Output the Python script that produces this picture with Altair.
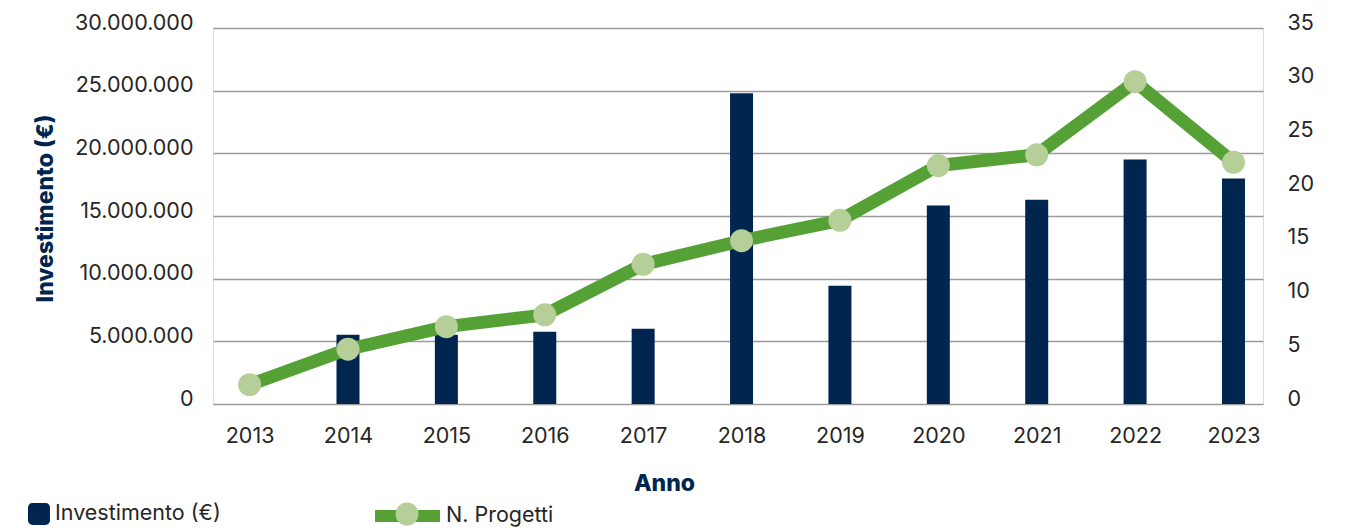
import altair as alt
import pandas as pd

# ---- data ----
years = [2013, 2014, 2015, 2016, 2017, 2018, 2019, 2020, 2021, 2022, 2023]
investimento = [0, 5530000, 5530000, 5770000, 6000000, 24800000, 9440000,
                15830000, 16300000, 19500000, 18000000]
progetti = [1.8, 5.1, 7.2, 8.3, 13.0, 15.2, 17.1, 22.2, 23.2, 30.0, 22.5]
left_ticks = [0, 5000000, 10000000, 15000000, 20000000, 25000000, 30000000]
right_ticks = [0, 5, 10, 15, 20, 25, 30, 35]
serie_bar = "Investimento (€)"
serie_line = "N. Progetti"
serie_marker = "N. Progetti (marcatore)"

NAVY = "#00264f"
GREEN = "#56a136"
LIGHT = "#b6cf99"
TEXT = "#262626"
FONT = "Inter"

df = pd.DataFrame({
    "Anno": years,
    "Investimento": investimento,
    "Progetti": progetti,
    "s1": [serie_bar] * len(years),
    "s2": [serie_line] * len(years),
    "s3": [serie_marker] * len(years),
})

x = alt.X(
    "Anno:Q",
    scale=alt.Scale(domain=[2012.628, 2023.300], nice=False, zero=False,
                    padding=0),
    axis=alt.Axis(values=years, format="d", title="Anno", grid=False,
                  domain=False, ticks=False, labelPadding=21,
                  labelFontSize=21.5, labelColor=TEXT, labelFont=FONT,
                  titleFont=FONT, titleFontSize=23, titleFontWeight=800,
                  titleColor=NAVY, titleX=451, titleY=79,
                  titleAlign="center", titleBaseline="middle"),
)

bars = alt.Chart(df).mark_bar(size=23).encode(
    x=x,
    y=alt.Y(
        "Investimento:Q",
        scale=alt.Scale(domain=[0, 30000000], nice=False),
        axis=alt.Axis(values=left_ticks,
                      labelExpr="datum.value == 0 ? '0' : format(datum.value / 1000000, 'd') + '.000.000'",
                      grid=True, gridColor="#9b9b9b", gridWidth=1.5,
                      domain=False, ticks=False, labelPadding=20,
                      labelBaseline="line-bottom", labelLineHeight=10,
                      labelFontSize=21.5, labelColor=TEXT, labelFont=FONT,
                      title="Investimento (€)", titleFont=FONT,
                      titleFontSize=23, titleFontWeight=800,
                      titleColor=NAVY, titleX=-168, titleY=180,
                      titleAngle=270, titleAlign="center",
                      titleBaseline="middle"),
    ),
    color=alt.Color(
        "s1:N",
        scale=alt.Scale(domain=[serie_bar], range=[NAVY]),
        legend=alt.Legend(title=None, orient="none", legendX=-185,
                          legendY=475, padding=0, labelOffset=5,
                          labelLimit=400,
                          symbolType="M-0.6,-1 L0.6,-1 A0.4,0.4 0 0 1 1,-0.6 L1,0.6 A0.4,0.4 0 0 1 0.6,1 L-0.6,1 A0.4,0.4 0 0 1 -1,0.6 L-1,-0.6 A0.4,0.4 0 0 1 -0.6,-1 Z",
                          symbolSize=484, symbolStrokeWidth=0,
                          labelFontSize=21.5, labelColor=TEXT, labelFont=FONT),
    ),
)

y_right = alt.Y(
    "Progetti:Q",
    scale=alt.Scale(domain=[0, 35], nice=False),
    axis=alt.Axis(values=right_ticks, orient="right", grid=False,
                  domain=False, ticks=False, labelPadding=24,
                  labelBaseline="line-bottom", labelLineHeight=10,
                  labelFontSize=21.5, labelColor=TEXT, labelFont=FONT,
                  title=None),
)

line = alt.Chart(df).mark_line(strokeWidth=13, strokeJoin="round",
                               strokeCap="round").encode(
    x=x,
    y=y_right,
    stroke=alt.Stroke(
        "s2:N",
        scale=alt.Scale(domain=[serie_line], range=[GREEN]),
        legend=alt.Legend(title=None, orient="none", legendX=156,
                          legendY=449.5, padding=0, labelOffset=0,
                          labelLimit=400,
                          symbolType="stroke", symbolSize=4225,
                          symbolStrokeWidth=12,
                          labelFontSize=21.5, labelColor=TEXT, labelFont=FONT),
    ),
)

points = alt.Chart(df).mark_circle(size=529, opacity=1).encode(
    x=x,
    y=y_right,
    fill=alt.Fill(
        "s3:N",
        scale=alt.Scale(domain=[serie_marker], range=[LIGHT]),
        legend=alt.Legend(title=None, orient="none", legendX=182.5,
                          legendY=474.5, padding=0, labelExpr="''",
                          symbolType="circle", symbolSize=529,
                          symbolStrokeWidth=0, labelFontSize=1),
    ),
)

right = alt.layer(line, points)

chart = alt.layer(bars, right).resolve_scale(y="independent").properties(
    width=1050,
    height=376,
    autosize=alt.AutoSizeParams(type="none"),
    padding={"left": 205, "top": 20, "right": 57, "bottom": 124},
).configure_view(stroke=None).configure(font=FONT)

chart.save("out.html", embed_options={"renderer": "svg", "actions": False})
